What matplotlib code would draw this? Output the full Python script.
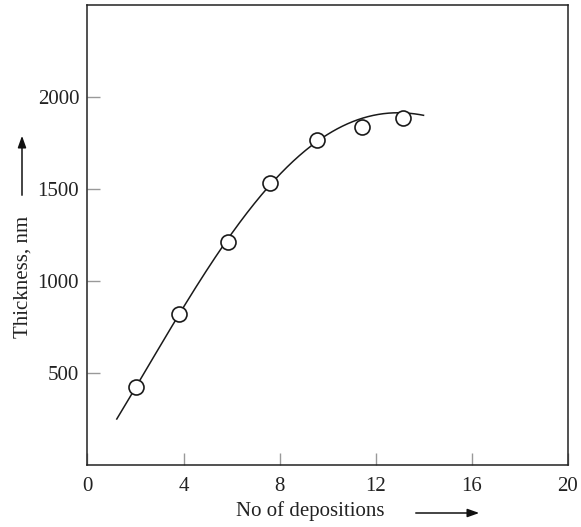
import numpy as np
import matplotlib
matplotlib.use("Agg")
import matplotlib.pyplot as plt

# Data
depositions = [2.0, 3.8, 5.85, 7.6, 9.55, 11.45, 13.15]
thickness = [422, 819, 1212, 1529, 1763, 1835, 1886]
# points
curve_x = [1.22, 2.02, 3.80, 5.84, 7.05, 7.63, 9.59, 10.52, 11.49, 12.60, 13.16, 14.0]
curve_y = [247, 424, 819, 1212, 1439, 1529, 1761, 1837, 1873, 1913, 1917, 1897]
x_ticks = [0, 4, 8, 12, 16, 20]
y_ticks = [500, 1000, 1500, 2000]

plt.rcParams['font.family'] = ['Liberation Serif', 'DejaVu Serif']

fig = plt.figure(figsize=(5.81, 5.27), dpi=100)
ax = fig.add_axes([0.1506, 0.1182, 0.8262, 0.8729])

coef = np.polyfit(curve_x, curve_y, 4)
xs = np.linspace(min(curve_x), max(curve_x), 300)
ax.plot(xs, np.polyval(coef, xs), color='#1a1a1a', lw=1.1, zorder=2)
ax.plot(depositions, thickness, 'o', ms=10.8, mfc='white', mec='#1a1a1a', mew=1.2, zorder=3)

ax.set_xlim(0, 20)
ax.set_ylim(0, 2500)
ax.set_xticks(x_ticks)
ax.set_yticks(y_ticks)
ax.tick_params(direction='in', length=9, width=1, color='#999999', labelsize=15, labelcolor='#222222')
ax.tick_params(axis='x', pad=9)
ax.tick_params(axis='y', pad=6)
for s in ax.spines.values():
    s.set_color('#222222')
    s.set_linewidth(1.1)

fig.text(310/581, (527-511)/527, 'No of depositions', ha='center', va='center', fontsize=15, color='#222222')
fig.text(23/581, (527-277)/527, 'Thickness, nm', ha='center', va='center', rotation=90, fontsize=15, color='#222222')

ax.annotate('', xy=(482/581, (527-513)/527), xytext=(413/581, (527-513)/527), xycoords='figure fraction',
            arrowprops=dict(arrowstyle='-|>,head_length=0.7,head_width=0.25', color='#111111', lw=1.1))
ax.annotate('', xy=(22/581, (527-133)/527), xytext=(22/581, (527-198)/527), xycoords='figure fraction',
            arrowprops=dict(arrowstyle='-|>,head_length=0.7,head_width=0.25', color='#111111', lw=1.1))

fig.savefig('out.png', dpi=100)
